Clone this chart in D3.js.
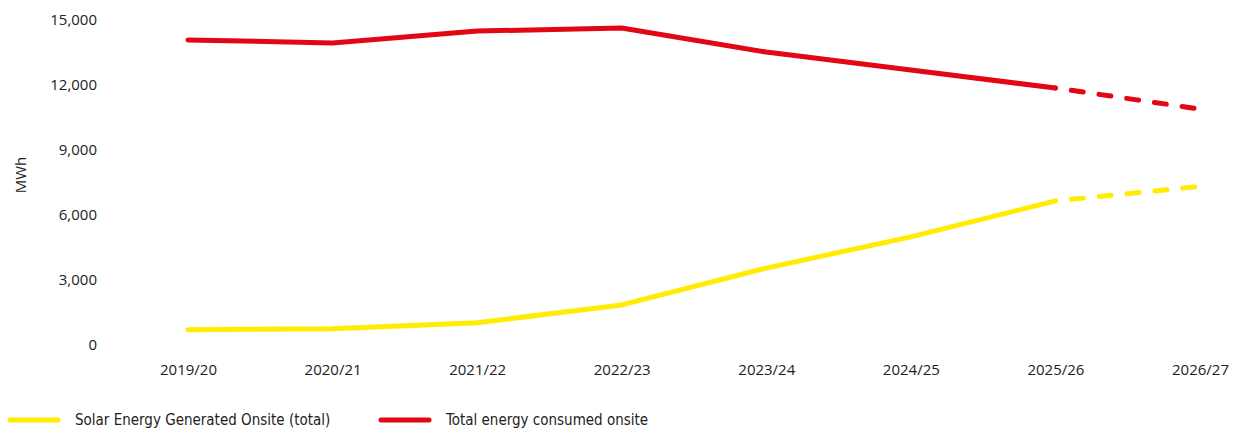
<!DOCTYPE html>
<html>
<head>
<meta charset="utf-8">
<script src="https://cdn.jsdelivr.net/npm/d3@7"></script>
<style>
  body { margin: 0; background: #fff; }
  #vis { width: 1233px; height: 431px; }
</style>
</head>
<body>
<div id="vis"></div>
<script>
// chart data
var years = ["2019/20", "2020/21", "2021/22", "2022/23", "2023/24", "2024/25", "2025/26", "2026/27"];
var solar = [700, 750, 1030, 1850, 3550, 4990, 6650, 7320];
var consumed = [14080, 13940, 14490, 14630, 13520, 12690, 11860, 10890];
var yTicks = [0, 3000, 6000, 9000, 12000, 15000];
var seriesNames = ["Solar Energy Generated Onsite (total)", "Total energy consumed onsite"];
var seriesColors = ["#ffec00", "#e30613"];
// index from which the line is a forecast (dashed)
var forecastFrom = 6;

var width = 1233, height = 431;

var svg = d3.select("#vis")
  .append("svg")
    .attr("width", width)
    .attr("height", height)
    .style("font-family", "'Open Sans', sans-serif");

var x = d3.scalePoint()
  .domain(years)
  .range([188, 1200]);

var y = d3.scaleLinear()
  .domain([0, 15000])
  .range([345, 20]);

// y axis, labels only
svg.append("g")
    .attr("transform", "translate(97,0)")
    .call(d3.axisLeft(y).tickValues(yTicks).tickSize(0).tickPadding(0).tickFormat(d3.format(",")))
    .call(g => g.select(".domain").remove())
    .call(g => g.selectAll("text")
      .style("font-size", "15px")
      .style("font-family", "'Open Sans', sans-serif")
      .attr("fill", "#222"));

svg.append("text")
    .attr("transform", "translate(26,175) rotate(-90)")
    .attr("text-anchor", "middle")
    .style("font-size", "15px")
    .attr("fill", "#222")
    .text("MWh");

// x axis
svg.append("g")
    .attr("transform", "translate(0,345)")
    .call(d3.axisBottom(x).tickSize(0).tickPadding(19))
    .call(g => g.select(".domain").remove())
    .call(g => g.selectAll("text")
      .style("font-size", "15px")
      .style("font-family", "'Open Sans', sans-serif")
      .attr("fill", "#222"));

var series = [
  { name: seriesNames[0], color: seriesColors[0], values: solar },
  { name: seriesNames[1], color: seriesColors[1], values: consumed }
];

var line = d3.line()
  .x(d => x(d.year))
  .y(d => y(d.value));

series.forEach(function (s) {
  var pts = years.map((yr, i) => ({ year: yr, value: s.values[i] }));

  // actuals
  svg.append("path")
      .datum(pts.slice(0, forecastFrom + 1))
      .attr("d", line)
      .attr("fill", "none")
      .attr("stroke", s.color)
      .attr("stroke-width", 5)
      .attr("stroke-linecap", "round")
      .attr("stroke-linejoin", "round");

  // forecast
  svg.append("path")
      .datum(pts.slice(forecastFrom))
      .attr("d", line)
      .attr("fill", "none")
      .attr("stroke", s.color)
      .attr("stroke-width", 5)
      .attr("stroke-linecap", "round")
      .attr("stroke-dasharray", "0,16,12,0");
});

// legend
var legend = svg.append("g")
    .attr("transform", "translate(0,420)");

var legendX = [8, 379];

var item = legend.selectAll("g")
  .data(series)
  .enter()
  .append("g")
    .attr("transform", (d, i) => "translate(" + legendX[i] + ",0)");

item.append("line")
    .attr("x1", 2)
    .attr("x2", 50)
    .attr("stroke", d => d.color)
    .attr("stroke-width", 5)
    .attr("stroke-linecap", "round");

item.append("text")
    .attr("x", 67)
    .attr("dy", "0.35em")
    .style("font-family", "'Liberation Sans Narrow', 'DejaVu Sans Condensed', sans-serif")
    .style("font-size", "15px")
    .attr("fill", "#222")
    .text(d => d.name);
</script>
</body>
</html>
